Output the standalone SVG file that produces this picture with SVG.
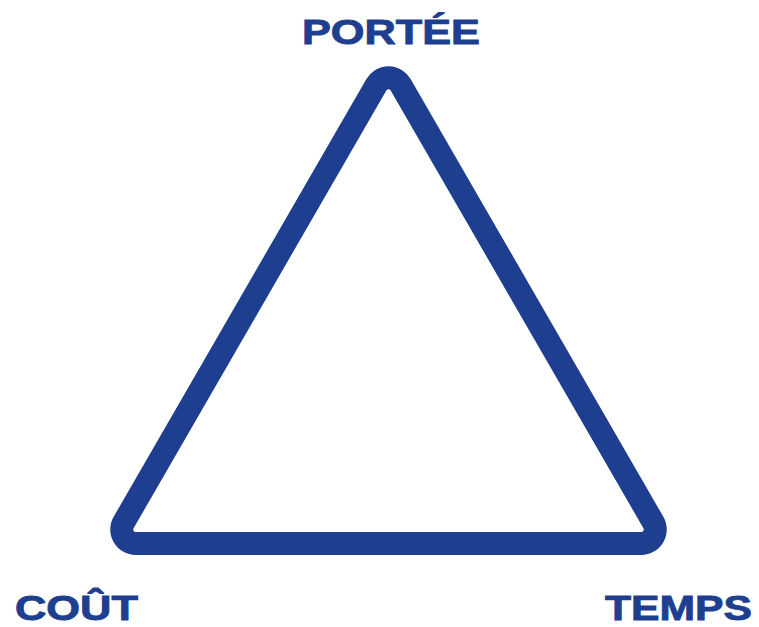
<svg xmlns="http://www.w3.org/2000/svg" width="759" height="627" viewBox="0 0 759 627">
<style>
.lbl{font-family:"Liberation Sans",Arial,sans-serif;font-weight:bold;font-size:35px;fill:#1e3f8f;stroke:#1e3f8f;stroke-width:0.9}
.tri{fill:none;stroke:#1e3f8f;stroke-width:23;stroke-linejoin:round}
</style>
<rect width="759" height="627" fill="#fff"/>
<g id="triangle"><path class="tri" d="M376.38,84.7 L123.62,522.5 A14,14 0 0 0 135.75,543.5 L641.25,543.5 A14,14 0 0 0 653.38,522.5 L400.62,84.7 A14,14 0 0 0 376.38,84.7 Z"/></g>
<g id="portee"><text class="lbl" x="302" y="44" textLength="178" lengthAdjust="spacingAndGlyphs">PORTÉE</text></g>
<g id="cout"><text class="lbl" x="15" y="620" textLength="123" lengthAdjust="spacingAndGlyphs">COÛT</text></g>
<g id="temps"><text class="lbl" x="605" y="620" textLength="147" lengthAdjust="spacingAndGlyphs">TEMPS</text></g>
</svg>
